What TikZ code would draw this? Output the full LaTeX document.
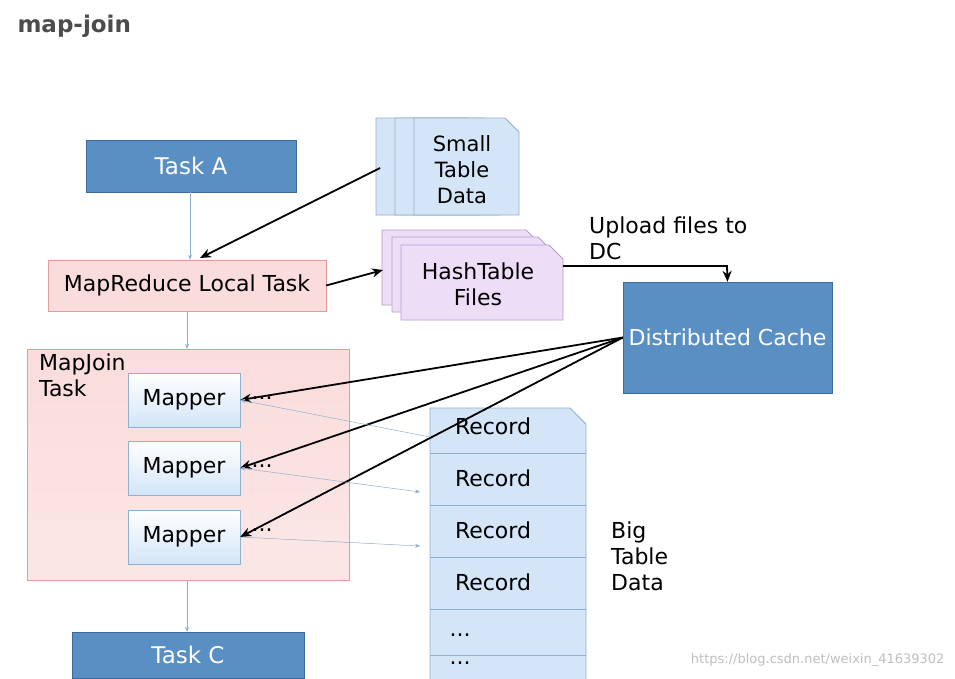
\documentclass[tikz,border=0pt]{standalone}
\usepackage{fontspec}
\setmainfont{DejaVu Sans}
\usetikzlibrary{arrows.meta}
\definecolor{tblue}{HTML}{5A8FC3}
\definecolor{tblueb}{HTML}{3C6A9E}
\definecolor{lblue}{HTML}{D3E5F7}
\definecolor{lblueb}{HTML}{8FB0D0}
\definecolor{pinkf}{HTML}{FADCDC}
\definecolor{pinkb}{HTML}{E39C9C}
\definecolor{purf}{HTML}{EEDDF7}
\definecolor{purb}{HTML}{B99AD0}
\tikzset{x=1pt,y=-1pt,
  task/.style={draw=tblueb,fill=tblue,text=white,font=\fontsize{23}{27}\selectfont},
  pinkbox/.style={draw=pinkb,fill=pinkf,font=\fontsize{22}{26}\selectfont},
  mapper/.style={draw=lblueb,top color=white,bottom color=lblue,font=\fontsize{22}{26}\selectfont},
  fat/.style={-{Stealth[length=11pt,width=9pt]},line width=1.8pt,black},
  thin/.style={-{Stealth[length=5pt,width=4pt]},line width=0.5pt,lblueb},
  lbl/.style={font=\fontsize{22}{26}\selectfont,align=left,inner sep=1pt},
}
\newcommand{\doc}[6]{% x1 y1 x2 y2 fill border
  \draw[draw=#6,fill=#5,line width=0.8pt] (#1,#2) -- (#3-14,#2) -- (#3,#2+14) -- (#3,#4) -- (#1,#4) -- cycle;}
\begin{document}
\begin{tikzpicture}
\useasboundingbox (0,0) rectangle (955,678);
\fill[white] (0,0) rectangle (955,678);
\node[anchor=west,font=\bfseries\fontsize{23}{27}\selectfont,text=black!70] (title) at (14,26) {map-join};
% small table stack
\doc{376}{118}{480}{215}{lblue}{lblueb}
\doc{395}{118}{500}{215}{lblue}{lblueb}
\doc{414}{118}{519}{215}{lblue}{lblueb}
\node[lbl,align=center,font=\fontsize{21}{26}\selectfont] (small) at (462,170) {Small\\Table\\Data};
% hashtable stack
\doc{382}{230}{540}{305}{purf}{purb}
\doc{392}{237}{552}{312}{purf}{purb}
\doc{401}{245}{563}{320}{purf}{purb}
\node[lbl,align=center] (hash) at (478,284) {HashTable\\Files};
\coordinate (hashL) at (383,270);
\coordinate (hashR) at (563,266);
\coordinate (smallL) at (380,168);
% boxes
\node[task,minimum width=210,minimum height=52] (A) at (191,166) {Task A};
\node[pinkbox,minimum width=278,minimum height=51] (mr) at (187,285.5) {MapReduce Local Task};
\node[task,minimum width=209,minimum height=111,font=\fontsize{22}{26}\selectfont] (dc) at (727.5,337.5) {Distributed Cache};
\node[draw=pinkb,top color=pinkf,bottom color=pinkf!70!white,minimum width=322,minimum height=231] (mj) at (188,464.5) {};
\node[lbl,anchor=north west,inner sep=0] (mjl) at (39,354) {MapJoin\\Task};
\node[mapper,minimum width=112,minimum height=54] (m1) at (184,400) {Mapper};
\node[mapper,minimum width=112,minimum height=54] (m2) at (184,468) {Mapper};
\node[mapper,minimum width=112,minimum height=54] (m3) at (184,537) {Mapper};
\node[lbl] (d1) at (262,398) {...};
\node[lbl] (d2) at (262,466) {...};
\node[lbl] (d3) at (262,530) {...};
\node[task,minimum width=232,minimum height=46] (C) at (188,655) {Task C};
% record column
\draw[draw=lblueb,fill=lblue,line width=0.8pt] (430,690) -- (430,408) -- (570,408) -- (586,424) -- (586,690);
\foreach \y in {453,505,557,609,655} \draw[lblueb,line width=0.8pt] (430,\y) -- (586,\y);
\node[lbl] (r1) at (493,426) {Record};
\node[lbl] (r2) at (493,478) {Record};
\node[lbl] (r3) at (493,530) {Record};
\node[lbl] (r4) at (493,582) {Record};
\node[lbl] (r5) at (460,635) {...};
\node[lbl] (r6) at (460,663) {...};
\node[lbl,anchor=west] (big) at (610,556) {Big\\Table\\Data};
\node[lbl,anchor=west] (up) at (588,238) {Upload files to\\DC};
\node[anchor=east,font=\fontsize{13}{15}\selectfont,text=black!25] (wm) at (948,660) {https://blog.csdn.net/weixin\_41639302};
% connectors
\draw[thin] (A.south -| 190,0) -- (mr.north -| 190,0);
\draw[thin] (mr.south -| 187,0) -- (mj.north -| 187,0);
\draw[thin] (mj.south -| 187,0) -- (C.north -| 187,0);
\draw[fat] (smallL) -- (200,258);
\draw[fat] (mr.east) -- (hashL);
\draw[fat] (hashR) -- (727,266) -- (dc.north);
\draw[fat] (dc.west) -- (m1.east);
\draw[fat] (dc.west) -- (m2.east);
\draw[fat] (dc.west) -- (m3.east);
\coordinate (rc1) at (430,437);
\coordinate (rc2) at (420,492);
\coordinate (rc3) at (420,546);
\draw[thin] (rc1) -- (m1.east);
\draw[thin,{Stealth[length=5pt,width=4pt]}-{Stealth[length=5pt,width=4pt]}] (m2.east) -- (rc2);
\draw[thin] (m3.east) -- (rc3);
\end{tikzpicture}
\end{document}
